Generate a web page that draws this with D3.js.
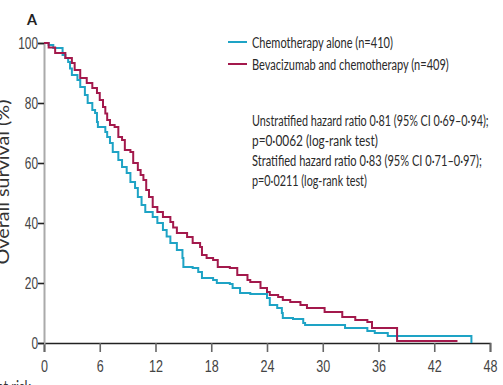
<!DOCTYPE html>
<meta charset="utf-8">
<style type="text/css">

body {
  margin: 0;
  background: #fff;
}

svg {
  font-family: Lato, "Liberation Sans", sans-serif;
}

.curve {
  fill: none;
  stroke-width: 2px;
}

</style>
<body>

<div id="svgContainer"></div>

<script src="https://d3js.org/d3.v7.min.js"></script>
<script>
var width = 503,
    height = 385;

// Kaplan-Meier step points (months, % alive)
var chemoTime = [0, 0.5, 1.0, 2.0, 2.3, 2.6, 2.8, 3.0, 3.6, 3.9, 4.4, 4.7, 5.2, 5.5, 5.7, 5.8, 6.6, 6.8, 7.1, 7.4,
  8.0, 8.4, 8.9, 9.3, 9.8, 10.1, 10.5, 10.9, 11.7, 12.2, 12.8, 13.2, 13.6, 14.3, 14.9, 15.0, 16.0, 16.6, 17.0, 18.2,
  18.6, 20.0, 20.3, 21.1, 22.2, 24.0, 24.3, 25.1, 25.6, 25.7, 26.8, 27.9, 28.1, 32.4, 34.8, 35.6, 37.0, 46.0];
var chemoSurv = [100, 99.3, 98.3, 96, 95, 93.7, 91.5, 89.3, 87.7, 85.3, 82.7, 80, 77.7, 76.7, 73.7, 72, 70.3, 68.7, 66.7, 63.7,
  61, 58.7, 56.7, 53.7, 51.7, 48.7, 46, 43.7, 42, 40, 37.7, 35.5, 33.3, 31, 28.3, 25.3, 25, 23.7, 21.7, 21,
  20, 19.7, 18.3, 16.7, 16.3, 15, 12.7, 11.7, 10, 8.3, 8, 6.7, 6, 5, 4, 3.3, 2.3, 0];

var bevTime = [0, 0.5, 1.2, 2.3, 3.0, 3.3, 3.9, 4.6, 5.2, 5.7, 6.0, 6.35, 6.6, 6.8, 7.1, 7.6, 8.0, 8.4, 8.7, 9.3,
  9.6, 10.1, 10.4, 10.7, 11.0, 11.3, 11.7, 12.2, 12.8, 13.6, 13.9, 14.3, 15.4, 16.0, 16.8, 17.0, 17.5, 18.2, 18.7, 20.0,
  20.8, 21.9, 22.2, 23.3, 24.0, 24.3, 25.2, 25.7, 26.5, 27.6, 28.3, 30.2, 32.1, 33.5, 34.8, 35.3, 38.0, 44.5];
var bevSurv = [100, 98.5, 96.7, 95, 93.3, 91, 88.3, 86.7, 85, 83.3, 81, 78.7, 76.5, 74.3, 72.7, 72, 68.7, 67.7, 64.3, 63.7,
  60, 57.7, 56, 54.3, 51, 48.7, 45.3, 43.7, 42, 40.3, 38.5, 36.7, 35.3, 33.3, 32, 29.3, 28.3, 27.7, 25.3, 25,
  22.7, 21, 20.3, 18.3, 17, 16, 15.3, 14.3, 13.7, 12.7, 11.7, 10.3, 8.7, 7.7, 7, 5, 0.7, 0.7];

var xTicks = [0, 6, 12, 18, 24, 30, 36, 42, 48];
var yTicks = [0, 20, 40, 60, 80, 100];

var seriesNames = ['Chemotherapy alone (n=410)', 'Bevacizumab and chemotherapy (n=409)'];
var seriesColors = ['#1ea3c5', '#a3194c'];

var statsLines = [
  'Unstratified hazard ratio 0\u00b781 (95% CI 0\u00b769\u20130\u00b794);',
  'p=0\u00b70062 (log-rank test)',
  'Stratified hazard ratio 0\u00b783 (95% CI 0\u00b771\u20130\u00b797);',
  'p=0\u00b70211 (log-rank test)'
];
var statsWidths = [237, 126, 230, 115];
var legendWidths = [141, 197];

var svg = d3.select('#svgContainer').append('svg')
    .attr('width', width)
    .attr('height', height);

var x = d3.scaleLinear().domain([0, 48]).range([44, 490]);
var y = d3.scaleLinear().domain([0, 100]).range([343, 43]);

// the original uses a condensed face, so squeeze a normal one horizontally
function squeeze(sel, tx, ty, target) {
  sel.each(function() {
    var w = this.getComputedTextLength();
    var s = typeof target === 'function' ? target.apply(this, arguments) / w : target;
    d3.select(this).attr('transform', 'translate(' + tx + ',' + ty + ') scale(' + s + ',1)');
  });
}

// axes
var xAxis = svg.append('g')
    .attr('transform', 'translate(0,' + y(0) + ')')
    .call(d3.axisBottom(x).tickValues(xTicks).tickSize(9).tickPadding(6));
xAxis.select('.domain').attr('stroke', '#222').attr('stroke-width', 1.6);
xAxis.selectAll('.tick line').attr('stroke', '#666').attr('stroke-width', 1.6);
xAxis.selectAll('.tick text')
    .attr('fill', '#444')
    .attr('font-size', 17)
    .attr('font-family', null)
    .attr('y', 0)
    .attr('dy', 0)
    .attr('transform', 'translate(0,29) scale(0.74,1)');

var yAxis = svg.append('g')
    .attr('transform', 'translate(' + x(0) + ',0)')
    .call(d3.axisLeft(y).tickValues(yTicks).tickSize(6).tickPadding(1));
yAxis.select('.domain').attr('stroke', '#aaa').attr('stroke-width', 2);
yAxis.selectAll('.tick line').attr('stroke', '#222').attr('stroke-width', 1.6);
yAxis.selectAll('.tick text')
    .attr('fill', '#444')
    .attr('font-size', 17)
    .attr('font-family', null)
    .attr('x', 0)
    .attr('transform', 'translate(-6,0) scale(0.7,1)');

// survival curves
var line = d3.line()
    .x(function(d) { return x(d[0]); })
    .y(function(d) { return y(d[1]); })
    .curve(d3.curveStepAfter);

var series = [
  d3.zip(chemoTime, chemoSurv),
  d3.zip(bevTime, bevSurv)
];

svg.selectAll('.curve')
    .data(series)
  .enter()
    .append('path')
      .attr('class', 'curve')
      .attr('stroke', function(d, i) { return seriesColors[i]; })
      .attr('d', line);

// legend
var legend = svg.selectAll('.legend')
    .data(seriesNames)
  .enter()
    .append('g')
      .attr('class', 'legend')
      .attr('transform', function(d, i) { return 'translate(228,' + (42 + i * 22) + ')'; });

legend.append('line')
    .attr('x1', 0).attr('x2', 19)
    .attr('stroke', function(d, i) { return seriesColors[i]; })
    .attr('stroke-width', 2);

legend.append('text')
    .attr('font-size', 16)
    .attr('fill', '#2a2a2a')
    .text(function(d) { return d; })
    .call(squeeze, 24, 5.5, function(d, i) { return legendWidths[i]; });

svg.selectAll('.stats')
    .data(statsLines)
  .enter()
    .append('g')
      .attr('class', 'stats')
      .attr('transform', function(d, i) { return 'translate(252,' + (126 + i * 20) + ')'; })
    .append('text')
      .attr('font-size', 16)
      .attr('fill', '#2a2a2a')
      .text(function(d) { return d; })
      .call(squeeze, 0, 0, function(d, i) { return statsWidths[i]; });

// panel letter and axis titles
svg.append('text')
    .attr('font-size', 16)
    .attr('font-weight', 'bold')
    .attr('fill', '#222')
    .text('A')
    .call(squeeze, 27, 25, 0.9);

svg.append('g')
    .attr('transform', 'translate(9,182) rotate(-90)')
  .append('text')
    .attr('text-anchor', 'middle')
    .attr('font-size', 17)
    .attr('fill', '#333')
    .text('Overall survival (%)')
    .call(squeeze, 0, 0, function() { return 165; });

svg.append('text')
    .attr('text-anchor', 'end')
    .attr('font-size', 17)
    .attr('fill', '#333')
    .text('Number at risk')
    .call(squeeze, 31, 393, 0.75);
</script>
